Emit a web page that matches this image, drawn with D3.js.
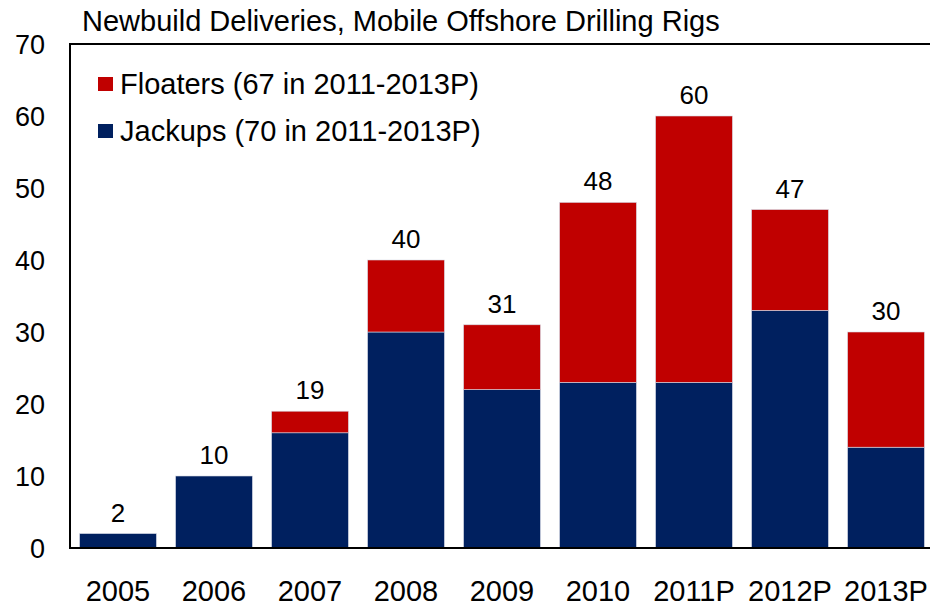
<!DOCTYPE html>
<html>
<head>
  <meta charset="utf8">
  <title>Newbuild Deliveries</title>
  <style>
    * { margin: 0; padding: 0; }
    body { background: #fff; }
    text { font-family: "Liberation Sans", Arial, sans-serif; fill: #000; }
  </style>
</head>
<body>
  <script src="https://cdn.jsdelivr.net/npm/d3@7"></script>
  <script>
    var years = ['2005', '2006', '2007', '2008', '2009', '2010', '2011P', '2012P', '2013P']
    var jackups = [2, 10, 16, 30, 22, 23, 23, 33, 14]
    var floaters = [0, 0, 3, 10, 9, 25, 37, 14, 16]
    var yTicks = [0, 10, 20, 30, 40, 50, 60, 70]
    var legendLabels = ['Floaters (67 in 2011-2013P)', 'Jackups (70 in 2011-2013P)']

    var w = 930
    var h = 606
    // plot box (don't call it "top", that is window.top)
    var plotLeft = 70, plotRight = 934, plotTop = 44, plotBottom = 548

    var rows = years.map((y, i) => ({ year: y, jackups: jackups[i], floaters: floaters[i] }))
    var stack = d3.stack().keys(['jackups', 'floaters'])(rows)
    var colors = { jackups: '#00205f', floaters: '#c00000' }

    var x = d3.scaleBand().domain(years).range([plotLeft, plotRight]).paddingInner(0.2).paddingOuter(0.1)
    var y = d3.scaleLinear().domain([0, 70]).range([plotBottom, plotTop])

    var svg = d3.select('body').append('svg').attr('width', w).attr('height', h)

    svg.append('text')
      .attr('x', 82).attr('y', 31)
      .attr('font-size', '29px')
      .text('Newbuild Deliveries, Mobile Offshore Drilling Rigs')

    // bars
    svg.selectAll('g.series')
      .data(stack)
      .enter()
      .append('g')
      .attr('class', 'series')
      .attr('fill', d => colors[d.key])
      .selectAll('rect')
      .data(d => d.filter(s => s[1] > s[0]))
      .enter()
      .append('rect')
      .attr('x', d => x(d.data.year))
      .attr('y', d => y(d[1]))
      .attr('width', x.bandwidth())
      .attr('height', d => y(d[0]) - y(d[1]))
      .attr('stroke', '#d6d9e4')
      .attr('stroke-width', 0.6)

    // totals above bars
    svg.selectAll('text.total')
      .data(rows)
      .enter()
      .append('text')
      .attr('class', 'total')
      .attr('text-anchor', 'middle')
      .attr('font-size', '26px')
      .attr('x', d => x(d.year) + x.bandwidth() / 2)
      .attr('y', d => y(d.jackups + d.floaters) - 12)
      .text(d => d.jackups + d.floaters)

    // frame: top, left, bottom
    svg.append('line').attr('x1', plotLeft).attr('x2', w).attr('y1', plotTop).attr('y2', plotTop)
      .attr('stroke', '#000').attr('stroke-width', 2)
    svg.append('line').attr('x1', plotLeft).attr('x2', plotLeft).attr('y1', plotTop - 1).attr('y2', plotBottom + 1)
      .attr('stroke', '#000').attr('stroke-width', 2)
    svg.append('line').attr('x1', plotLeft - 1).attr('x2', w).attr('y1', plotBottom).attr('y2', plotBottom)
      .attr('stroke', '#000').attr('stroke-width', 2)

    // y tick labels
    svg.selectAll('text.ytick')
      .data(yTicks)
      .enter()
      .append('text')
      .attr('class', 'ytick')
      .attr('text-anchor', 'end')
      .attr('font-size', '27px')
      .attr('x', 45)
      .attr('y', d => y(d) + 10)
      .text(d => d)

    // x labels
    svg.selectAll('text.xtick')
      .data(years)
      .enter()
      .append('text')
      .attr('class', 'xtick')
      .attr('text-anchor', 'middle')
      .attr('font-size', '29px')
      .attr('x', d => x(d) + x.bandwidth() / 2)
      .attr('y', 601)
      .text(d => d)

    // legend
    var legend = svg.selectAll('g.legend')
      .data([['floaters', legendLabels[0]], ['jackups', legendLabels[1]]])
      .enter()
      .append('g')
      .attr('class', 'legend')
      .attr('transform', (d, i) => 'translate(98,' + (77 + i * 47) + ')')
    legend.append('rect')
      .attr('width', 15).attr('height', 14)
      .attr('fill', d => colors[d[0]])
    legend.append('text')
      .attr('x', 22).attr('y', 17)
      .attr('font-size', '29px')
      .text(d => d[1])
  </script>
</body>
</html>
